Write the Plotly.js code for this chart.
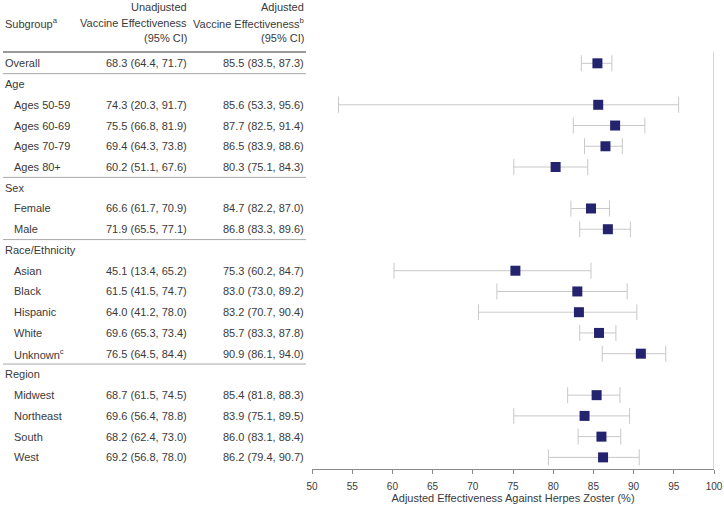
<!DOCTYPE html>
<html><head><meta charset="utf-8">
<script src="https://cdn.plot.ly/plotly-3.0.1.min.js"></script>
<style>html,body{margin:0;padding:0;background:#fff;}#chart{width:724px;height:505px;}</style>
</head><body><div id="chart"></div>
<script>
// Row labels (top to bottom); headers are group titles without values
const labels = ["Overall","Age","Ages 50-59","Ages 60-69","Ages 70-79","Ages 80+","Sex","Female","Male","Race/Ethnicity","Asian","Black","Hispanic","White","Unknown<sup>c</sup>","Region","Midwest","Northeast","South","West"];
const isGroup = [false,true,false,false,false,false,true,false,false,true,false,false,false,false,false,true,false,false,false,false];
const isTopLevel = [true,true,false,false,false,false,true,false,false,true,false,false,false,false,false,true,false,false,false,false];
const unadjusted = ["68.3 (64.4, 71.7)","","74.3 (20.3, 91.7)","75.5 (66.8, 81.9)","69.4 (64.3, 73.8)","60.2 (51.1, 67.6)","","66.6 (61.7, 70.9)","71.9 (65.5, 77.1)","","45.1 (13.4, 65.2)","61.5 (41.5, 74.7)","64.0 (41.2, 78.0)","69.6 (65.3, 73.4)","76.5 (64.5, 84.4)","","68.7 (61.5, 74.5)","69.6 (56.4, 78.8)","68.2 (62.4, 73.0)","69.2 (56.8, 78.0)"];
const adjEst = [85.5,null,85.6,87.7,86.5,80.3,null,84.7,86.8,null,75.3,83.0,83.2,85.7,90.9,null,85.4,83.9,86.0,86.2];
const adjLo  = [83.5,null,53.3,82.5,83.9,75.1,null,82.2,83.3,null,60.2,73.0,70.7,83.3,86.1,null,81.8,75.1,83.1,79.4];
const adjHi  = [87.3,null,95.6,91.4,88.6,84.3,null,87.0,89.6,null,84.7,89.2,90.4,87.8,94.0,null,88.3,89.5,88.4,90.7];
const xTicks = [50,55,60,65,70,75,80,85,90,95,100];
const headerCol1 = ["Subgroup<sup>a</sup>"];
const headerCol2 = ["Unadjusted","Vaccine Effectiveness","(95% CI)"];
const headerCol3 = ["Adjusted","Vaccine Effectiveness<sup>b</sup>","(95% CI)"];
const separatorsAfter = [0,5,8,14];

const W = 724, H = 505;
const textColor = "#3a3a3a";
const font = {family:"Liberation Sans, Arial, sans-serif", size:11, color:textColor};

const rows = labels.map((_, i) => i);
const fmt = v => v.toFixed(1);
const adjText = adjEst.map((v,i) => v===null ? "" : `${fmt(v)} (${fmt(adjLo[i])}, ${fmt(adjHi[i])})`);

const trace = {
  type:"scatter", mode:"markers",
  x: adjEst, y: rows,
  marker:{symbol:"square", size:10, color:"#23236e"},
  error_x:{type:"data", symmetric:false,
    array: adjEst.map((v,i)=> v===null?null:adjHi[i]-v),
    arrayminus: adjEst.map((v,i)=> v===null?null:v-adjLo[i]),
    color:"#c8c8c8", thickness:1, width:8},
  hoverinfo:"skip", showlegend:false
};

const px = x => x / W;
const annotations = [];
labels.forEach((lab,i) => {
  annotations.push({xref:"paper", yref:"y", x:px(isTopLevel[i]?3:12), y:i, xanchor:"left", yanchor:"middle", text:lab, showarrow:false, font});
  if (!isGroup[i]) {
    annotations.push({xref:"paper", yref:"y", x:px(189), y:i, xanchor:"right", yanchor:"middle", text:unadjusted[i], showarrow:false, font});
    annotations.push({xref:"paper", yref:"y", x:px(306), y:i, xanchor:"right", yanchor:"middle", text:adjText[i], showarrow:false, font});
  }
});
const hdrY = [7, 22.5, 38];
const py = y => 1 - y / H;
headerCol1.forEach(t => annotations.push({xref:"paper", yref:"paper", x:px(3), y:py(22.5), xanchor:"left", yanchor:"middle", text:t, showarrow:false, font}));
headerCol2.forEach((t,k) => annotations.push({xref:"paper", yref:"paper", x:px(189), y:py(hdrY[k]), xanchor:"right", yanchor:"middle", text:t, showarrow:false, font}));
headerCol3.forEach((t,k) => annotations.push({xref:"paper", yref:"paper", x:px(306), y:py(hdrY[k]), xanchor:"right", yanchor:"middle", text:t, showarrow:false, font}));

const shapes = [];
shapes.push({type:"line", xref:"paper", yref:"paper", x0:px(3), x1:px(306), y0:py(52), y1:py(52), line:{color:"#9a9a9a", width:2}});
separatorsAfter.forEach(i => shapes.push({type:"line", xref:"paper", yref:"y", x0:px(3), x1:px(306), y0:i+0.5, y1:i+0.5, line:{color:"#a8a8a8", width:1}}));
shapes.push({type:"line", xref:"x", yref:"paper", x0:100, x1:100, y0:py(469), y1:py(52), line:{color:"#a8a8a8", width:1}});

const layout = {
  width:W, height:H, margin:{l:0,r:0,t:0,b:0},
  paper_bgcolor:"#fff", plot_bgcolor:"#fff",
  font,
  xaxis:{domain:[px(312), px(714)], range:[50,100], tickvals:xTicks, ticktext:xTicks.map(String),
    showgrid:false, zeroline:false, showline:true, linecolor:"#8a8a8a", linewidth:1,
    ticks:"outside", ticklen:4, tickcolor:"#8a8a8a", ticklabelstandoff:4,
    tickfont:{family:font.family, size:10, color:textColor},
    title:{text:"Adjusted Effectiveness Against Herpes Zoster (%)", font:{family:font.family, size:11, color:textColor}, standoff:0},
    anchor:"y", fixedrange:true},
  yaxis:{domain:[py(469), py(52)], range:[19.56,-0.545], showgrid:false, zeroline:false, showline:false, showticklabels:false, ticks:"", fixedrange:true},
  annotations, shapes
};
Plotly.newPlot("chart", [trace], layout, {displayModeBar:false, staticPlot:true});
</script></body></html>
